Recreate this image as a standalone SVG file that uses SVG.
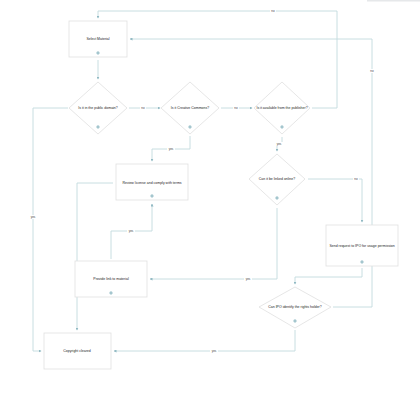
<svg xmlns="http://www.w3.org/2000/svg" width="420" height="400" viewBox="0 0 420 400">
<defs>
<marker id="ah" viewBox="0 0 6 6" refX="5" refY="3" markerWidth="3" markerHeight="3" orient="auto" markerUnits="userSpaceOnUse">
<path d="M0,0 L6,3 L0,6 z" fill="#8fb8c2"/>
</marker>
<style>
.c{fill:none;stroke:#c2dade;stroke-width:0.9}
.a{marker-end:url(#ah)}
.n{fill:#fff;stroke:#e0e0e0;stroke-width:0.8}
.t{font-family:"Liberation Sans",Arial,sans-serif;font-size:3.5px;fill:#222;text-anchor:middle;dominant-baseline:middle}
.l{font-family:"Liberation Sans",Arial,sans-serif;font-size:3px;fill:#444;text-anchor:middle;dominant-baseline:middle}
.lb{fill:#fff}
.d{fill:#8fb8c2;stroke:#c8dde2;stroke-width:0.8}
</style>
</defs>
<rect width="420" height="400" fill="#fff"/>
<rect x="367" y="0" width="53" height="1.5" fill="#e6e8ea"/>
<g id="connectors">
<path class="c a" d="M98,60 V79"/>
<path class="c a" d="M129,108 H160"/>
<path class="c a" d="M221,108 H252"/>
<path class="c a" d="M312,108 H337 V11 H98 V18"/>
<path class="c a" d="M68,108 H33 V351 H41"/>
<path class="c a" d="M190,136 V149 H152 V161"/>
<path class="c a" d="M282,137 V144 H277 V151"/>
<path class="c a" d="M308,179 H362 V222"/>
<path class="c a" d="M277,208 V279 H150"/>
<path class="c a" d="M362,268 V277 H295 V284"/>
<path class="c a" d="M333,307 H372 V39 H130"/>
<path class="c a" d="M295,330 V351 H114"/>
<path class="c a" d="M111,259 V231 H152 V204"/>
<path class="c a" d="M113,183 H77 V330"/>
<rect class="lb" x="140" y="106" width="6" height="4"/><text class="l" x="143" y="108">no</text>
<rect class="lb" x="233" y="106" width="6" height="4"/><text class="l" x="236" y="108">no</text>
<rect class="lb" x="270" y="9" width="6" height="4"/><text class="l" x="273" y="11">no</text>
<rect class="lb" x="29" y="215" width="8" height="4"/><text class="l" x="33" y="217">yes</text>
<rect class="lb" x="167" y="147" width="8" height="4"/><text class="l" x="171" y="149">yes</text>
<rect class="lb" x="275" y="142" width="8" height="4"/><text class="l" x="279" y="144">yes</text>
<rect class="lb" x="353" y="177" width="6" height="4"/><text class="l" x="356" y="179">no</text>
<rect class="lb" x="244" y="277" width="8" height="4"/><text class="l" x="248" y="279">yes</text>
<rect class="lb" x="369" y="69" width="6" height="4"/><text class="l" x="372" y="71">no</text>
<rect class="lb" x="210" y="349" width="8" height="4"/><text class="l" x="214" y="351">yes</text>
<rect class="lb" x="127" y="229" width="8" height="4"/><text class="l" x="131" y="231">yes</text>
</g>
<g id="select-material">
<rect class="n" x="69" y="21" width="58" height="36"/>
<text class="t" x="98" y="39">Select Material</text>
<circle class="d" cx="98" cy="53" r="1.4"/>
</g>
<g id="public-domain">
<path class="n" d="M98,82 L127,108 L98,134 L69,108 z"/>
<text class="t" x="98" y="108">Is it in the public domain?</text>
<circle class="d" cx="98" cy="127" r="1.4"/>
</g>
<g id="creative-commons">
<path class="n" d="M190,82 L219,108 L190,134 L161,108 z"/>
<text class="t" x="190" y="108">Is it Creative Commons?</text>
<circle class="d" cx="190" cy="127" r="1.4"/>
</g>
<g id="publisher">
<path class="n" d="M282,82 L310,108 L282,134 L254,108 z"/>
<text class="t" x="282" y="108">Is it available from the publisher?</text>
<circle class="d" cx="282" cy="127" r="1.4"/>
</g>
<g id="review-license">
<rect class="n" x="116" y="164" width="72" height="36"/>
<text class="t" x="152" y="183">Review license and comply with terms</text>
<circle class="d" cx="152" cy="196" r="1.4"/>
</g>
<g id="linked-online">
<path class="n" d="M277,154 L305,179 L277,205 L249,179 z"/>
<text class="t" x="277" y="179">Can it be linked online?</text>
<circle class="d" cx="277" cy="198" r="1.4"/>
</g>
<g id="send-request">
<rect class="n" x="326" y="225" width="72" height="41"/>
<text class="t" x="362" y="246">Send request to IPO for usage permission</text>
<circle class="d" cx="362" cy="262" r="1.4"/>
</g>
<g id="provide-link">
<rect class="n" x="75" y="261" width="72" height="36"/>
<text class="t" x="111" y="279">Provide link to material</text>
<circle class="d" cx="111" cy="293" r="1.4"/>
</g>
<g id="rights-holder">
<path class="n" d="M295,287 L331,307 L295,328 L259,307 z"/>
<text class="t" x="295" y="307">Can IPO identify the rights holder?</text>
<circle class="d" cx="295" cy="321" r="1.4"/>
</g>
<g id="copyright-cleared">
<rect class="n" x="44" y="333" width="67" height="36"/>
<text class="t" x="77" y="351">Copyright cleared</text>
</g>
</svg>
